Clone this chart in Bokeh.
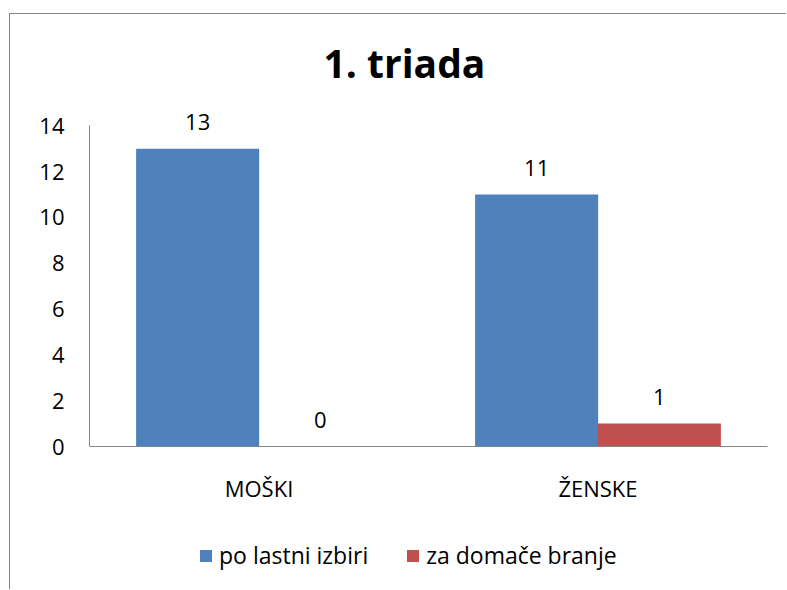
from bokeh.plotting import figure
from bokeh.layouts import column
from bokeh.models import (ColumnDataSource, Range1d, SingleIntervalTicker, LabelSet,
                          Legend, LegendItem)
from bokeh.core.properties import value
from bokeh.transform import dodge
from bokeh.embed import file_html
from bokeh.resources import INLINE

categories = ["MOŠKI", "ŽENSKE"]
series_names = ["po lastni izbiri", "za domače branje"]
po_lastni_izbiri = [13, 11]
za_domace_branje = [0, 1]
colors = ["#4F81BD", "#C0504D"]
y_ticks_max = 14

FONT = "Open Sans"
BORDER = "1px solid #868686"

src = ColumnDataSource(dict(cat=categories, s1=po_lastni_izbiri, s2=za_domace_branje,
                            l1=[str(v) for v in po_lastni_izbiri],
                            l2=[str(v) for v in za_domace_branje]))

p = figure(x_range=categories, y_range=Range1d(0, 15.5), width=777, height=520,
           output_backend="svg", toolbar_location=None,
           min_border_left=79, min_border_right=20, min_border_top=77, min_border_bottom=88,
           styles={"border-left": BORDER, "border-top": BORDER})

p.title.text = "1. triada"
p.title.text_font = FONT
p.title.text_font_size = "39px"
p.title.text_font_style = "bold"
p.title.align = "left"
p.title.offset = 234
p.title.standoff = 6
p.title.text_color = "black"

w = 0.363
off = 0.181
p.vbar(x=dodge("cat", -off, range=p.x_range), top="s1", width=w, source=src,
       fill_color=colors[0], line_color=None)
p.vbar(x=dodge("cat", off, range=p.x_range), top="s2", width=w, source=src,
       fill_color=colors[1], line_color=None)

for col, lab, o in (("s1", "l1", -off), ("s2", "l2", off)):
    ls = LabelSet(x=dodge("cat", o, range=p.x_range), y=col, text=lab, source=src,
                  text_align="center", text_baseline="alphabetic", y_offset=19,
                  text_font=value(FONT), text_font_size="22px", text_color="black")
    p.add_layout(ls)

p.xgrid.visible = False
p.ygrid.visible = False
p.outline_line_color = None

for ax in (p.xaxis, p.yaxis):
    ax.axis_line_color = "#868686"
    ax.axis_line_width = 1
    ax.major_tick_line_color = None
    ax.minor_tick_line_color = None
    ax.major_tick_out = 0
    ax.major_tick_in = 0
    ax.major_label_text_font = FONT
    ax.major_label_text_font_size = "22px"
    ax.major_label_text_color = "black"

p.yaxis.ticker = SingleIntervalTicker(interval=2)
p.yaxis.bounds = (0, y_ticks_max)
p.yaxis.major_label_standoff = 21
p.xaxis.major_label_standoff = 26

# legend strip below the chart
lf = figure(x_range=Range1d(0, 1), y_range=Range1d(0, 1), width=777, height=56,
            output_backend="svg", toolbar_location=None,
            x_axis_location=None, y_axis_location=None,
            min_border=0, styles={"border-left": BORDER})
lf.grid.visible = False
lf.outline_line_color = None
# zero-size placeholder renderers so the legend can draw its swatches
d1 = lf.vbar(x=[0], top=[0], width=0, fill_color=colors[0], line_color=None)
d2 = lf.vbar(x=[0], top=[0], width=0, fill_color=colors[1], line_color=None)
legend = Legend(items=[LegendItem(label=series_names[0], renderers=[d1]),
                       LegendItem(label=series_names[1], renderers=[d2])],
                orientation="horizontal", location=(109, 18),
                glyph_width=15, glyph_height=15, label_standoff=6, spacing=37,
                padding=0, margin=0, border_line_color=None, background_fill_alpha=0,
                label_text_font=FONT, label_text_font_size="23px", label_text_color="black")
lf.add_layout(legend, "center")

root = column(p, lf, spacing=0, styles={"padding-left": "9px", "padding-top": "13px"})

open("out.html", "w").write(file_html(root, INLINE))
